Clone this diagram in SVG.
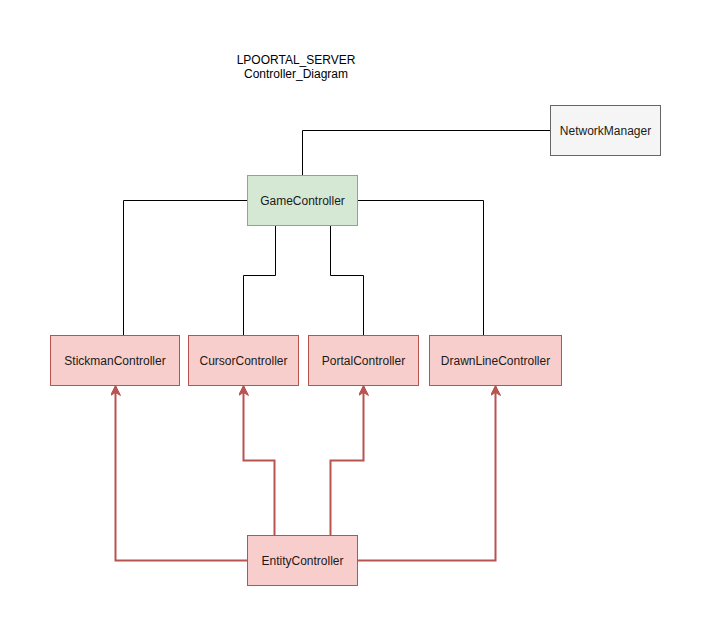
<svg xmlns="http://www.w3.org/2000/svg" width="711" height="636" viewBox="0 0 711 636">
  <style>
    .lbl { font-family: "Liberation Sans", Arial, sans-serif; font-size: 12px; fill: #1a1a1a; text-anchor: middle; dominant-baseline: central; }
    .title { font-family: "Liberation Sans", Arial, sans-serif; font-size: 12px; fill: #000; text-anchor: middle; }
    .green { fill: #d5e8d4; stroke: #82b366; stroke-width: 1; }
    .red { fill: #f8cecc; stroke: #b85450; stroke-width: 1; }
    .gray { fill: #f5f5f5; stroke: #666666; stroke-width: 1; }
    .link { fill: none; stroke: #000; stroke-width: 1; }
    .dep { fill: none; stroke: #b85450; stroke-width: 2; marker-end: url(#arrow); }
  </style>
  <defs>
    <marker id="arrow" viewBox="0 0 10 10" refX="9" refY="5" markerWidth="5" markerHeight="5" markerUnits="strokeWidth" orient="auto">
      <path d="M0,0 L10,5 L0,10 L3,5 Z" fill="#b85450" stroke="#b85450" stroke-width="1"/>
    </marker>
  </defs>
  <rect width="711" height="636" fill="#ffffff"/>

  <g id="title">
    <text class="title" x="296" y="64">LPOORTAL_SERVER</text>
    <text class="title" x="296" y="78">Controller_Diagram</text>
  </g>

  <g id="connectors">
    <path class="link" d="M302.5,175.5 V130.5 H550.5"/>
    <path class="link" d="M247.5,200.5 H123.5 V335.5"/>
    <path class="link" d="M275.5,225.5 V275.5 H243.5 V335.5"/>
    <path class="link" d="M330.5,225.5 V275.5 H363.5 V335.5"/>
    <path class="link" d="M357.5,200.5 H483.5 V335.5"/>
    <path class="dep" d="M247.5,560.5 H115.5 V386.5"/>
    <path class="dep" d="M274.5,535.5 V460.5 H243.5 V386.5"/>
    <path class="dep" d="M330.5,535.5 V460.5 H363.5 V386.5"/>
    <path class="dep" d="M357.5,560.5 H495.5 V386.5"/>
  </g>

  <g id="NetworkManager">
    <rect class="gray" x="550.5" y="105.5" width="110" height="50"/>
    <text class="lbl" x="605.5" y="130.5">NetworkManager</text>
  </g>
  <g id="GameController">
    <rect class="green" x="247.5" y="175.5" width="110" height="50"/>
    <text class="lbl" x="302.5" y="200.5">GameController</text>
  </g>
  <g id="StickmanController">
    <rect class="red" x="50.5" y="335.5" width="129" height="50"/>
    <text class="lbl" x="115" y="360.5">StickmanController</text>
  </g>
  <g id="CursorController">
    <rect class="red" x="188.5" y="335.5" width="110" height="50"/>
    <text class="lbl" x="243.5" y="360.5">CursorController</text>
  </g>
  <g id="PortalController">
    <rect class="red" x="308.5" y="335.5" width="110" height="50"/>
    <text class="lbl" x="363.5" y="360.5">PortalController</text>
  </g>
  <g id="DrawnLineController">
    <rect class="red" x="429.5" y="335.5" width="132" height="50"/>
    <text class="lbl" x="495.5" y="360.5">DrawnLineController</text>
  </g>
  <g id="EntityController">
    <rect class="red" x="247.5" y="535.5" width="110" height="50"/>
    <text class="lbl" x="302.5" y="560.5">EntityController</text>
  </g>
</svg>
